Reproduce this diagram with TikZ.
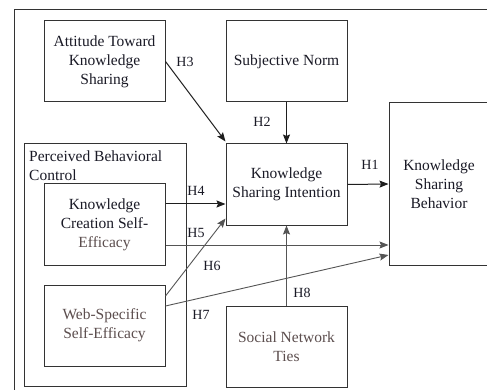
\documentclass[tikz,border=0pt]{standalone}
\usepackage{fontspec}
\setmainfont{Liberation Serif}
\usetikzlibrary{arrows.meta}

\definecolor{frameline}{HTML}{333333}
\definecolor{darkarrow}{HTML}{1E1E1E}
\definecolor{softarrow}{HTML}{555555}
\definecolor{txtdark}{HTML}{1A1A26}
\definecolor{txtsoft}{HTML}{5C4E4E}

\begin{document}
\begin{tikzpicture}[x=1pt,y=-1pt,
  construct/.style={draw=frameline, line width=1pt, inner sep=0pt,
    minimum width=121pt, minimum height=81pt, align=center,
    text=txtdark, font=\fontsize{15.5}{18.8}\selectfont},
  hyp/.style={inner sep=0pt, text=txtdark, font=\fontsize{14}{16}\selectfont},
  path1/.style={line width=1pt, draw=darkarrow,
    -{Stealth[length=9pt,width=7pt,inset=1.5pt]}},
  path2/.style={line width=0.9pt, draw=softarrow,
    -{Stealth[length=9pt,width=7pt,inset=1.5pt]}}]
\useasboundingbox (0,0) rectangle (487,390);
\clip (0,0) rectangle (487,390);
\fill[white] (0,0) rectangle (487,390);

% enclosing frame
\coordinate (frbl) at (14,400);
\coordinate (frtl) at (14,10);
\coordinate (frtr) at (500,10);
\draw[frameline, line width=1pt] (frbl) -- (frtl) -- (frtr);

% perceived behavioral control group
\node[draw=frameline, line width=1pt, minimum width=162pt, minimum height=242pt,
  inner sep=0pt] (pbc) at (105,265) {};
\node[anchor=north west, inner sep=0pt, align=left, text=txtdark,
  font=\fontsize{15.5}{18.8}\selectfont] (pbctext) at (29,150.5)
  {Perceived Behavioral\\Control};

% constructs
\node[construct] (att)  at (104.5,61.5)  {Attitude Toward\\Knowledge\\Sharing};
\node[construct] (sn)   at (286.5,61.5)  {Subjective Norm};
\node[construct] (kcse) at (104.5,224.5) {Knowledge\\Creation Self-\\\textcolor{txtsoft}{Efficacy}};
\node[construct, text=txtsoft] (wsse) at (104.5,325.5) {Web-Specific\\Self-Efficacy};
\node[construct] (ksi)  at (286.5,184.5) {Knowledge\\Sharing Intention};
\node[construct, minimum width=100pt, minimum height=162pt] (ksb) at (439,184)
  {Knowledge\\Sharing\\Behavior};
\node[construct, text=txtsoft] (snt) at (286.5,346.5) {Social Network\\Ties};

% hypothesised paths
\draw[path1] (att.east) -- ([yshift=2pt]ksi.north west);
\draw[path1] (sn.south) -- (ksi.north);
\draw[path1] (ksi.east) -- (ksb.west);
\draw[path1] ([yshift=20.5pt]kcse.east) -- ([yshift=20.5pt]kcse.east -| ksi.west);
\draw[path2] ([yshift=-20.5pt]kcse.east) -- ([yshift=-20.5pt]kcse.east -| ksb.west);
\draw[path2] ([yshift=29.5pt]wsse.east) -- ([yshift=7pt]ksi.south west);
\draw[path2] ([yshift=19.5pt]wsse.east) -- ([yshift=-71pt]ksb.west);
\draw[path2] (snt.north) -- (ksi.south);

% path labels
\node[hyp] (h1) at (370,165) {H1};
\node[hyp] (h2) at (262,122) {H2};
\node[hyp] (h3) at (185,62)  {H3};
\node[hyp] (h4) at (196,191) {H4};
\node[hyp] (h5) at (196,233) {H5};
\node[hyp] (h6) at (212,266) {H6};
\node[hyp] (h7) at (201,315) {H7};
\node[hyp] (h8) at (302,293) {H8};
\end{tikzpicture}
\end{document}
